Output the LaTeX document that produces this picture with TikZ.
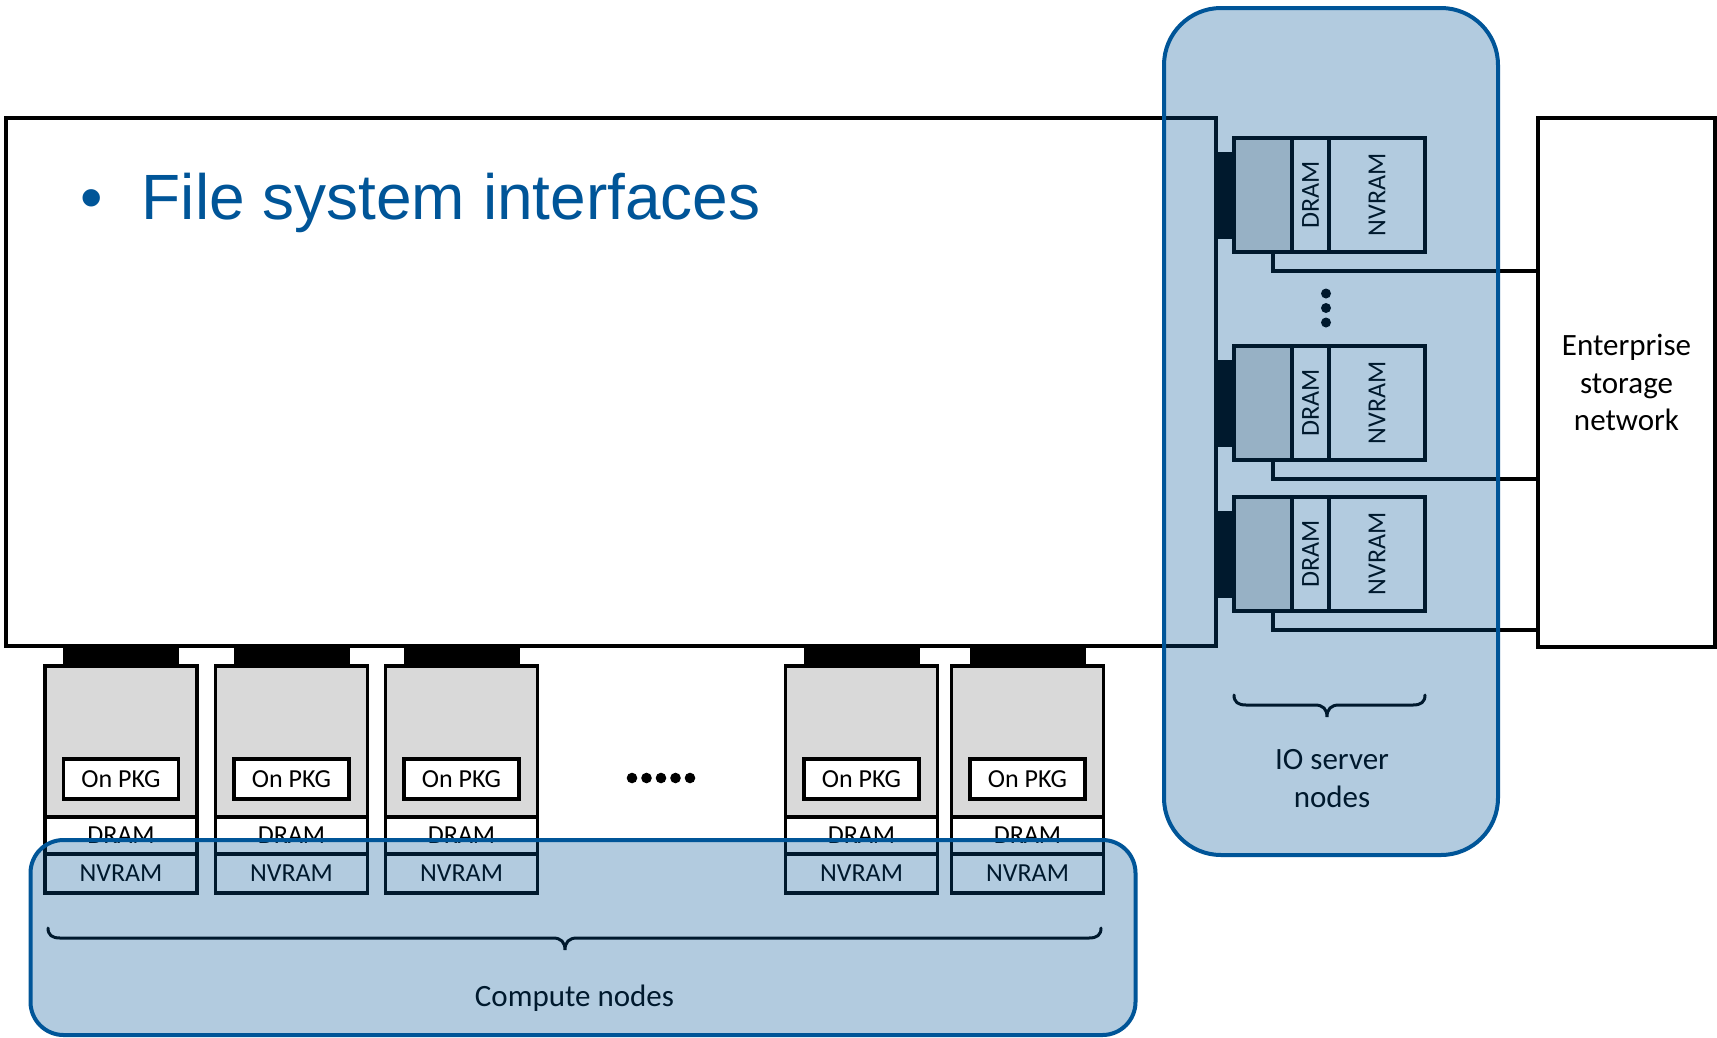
\documentclass[tikz,border=0pt]{standalone}
\usepackage{fontspec}
\setmainfont{Carlito}
\newfontfamily\titlefont{Liberation Sans}
\usetikzlibrary{calc}
\definecolor{grpblue}{RGB}{0,85,152}
\definecolor{cpugrey}{RGB}{217,217,217}
\newcommand\lblfont{\fontsize{26}{31}\selectfont}
\newcommand\capfont{\fontsize{31}{37.5}\selectfont}
\newcommand\headfont{\titlefont\fontsize{64}{76}\selectfont}
\begin{document}
\begin{tikzpicture}[x=1pt,y=-1pt,
  box/.style={draw=black, line width=3.3pt, inner sep=0pt, outer sep=0pt},
  cpu/.style={box, fill=cpugrey, minimum width=152pt, minimum height=151pt},
  mem/.style={box, fill=white, minimum width=152pt, font=\lblfont},
  pkg/.style={box, fill=white, minimum width=115pt, minimum height=40pt, font=\lblfont},
  link/.style={fill=black, inner sep=0pt, outer sep=0pt},
  wire/.style={draw=black, line width=4pt},
  brace/.style={draw=black, line width=3pt, line cap=round},
  grp/.style={draw=grpblue, line width=4pt, fill=grpblue, fill opacity=0.3, inner sep=0pt},
  vlabel/.style={rotate=90, font=\lblfont, inner sep=0pt}
]
% canvas
\fill[white] (0,0) rectangle (1717,1037);
\useasboundingbox (0,0) rectangle (1717,1037);

% interconnect fabric and enterprise storage
\node[box, fill=white, minimum width=1210pt, minimum height=528pt] (fabric) at (611,382) {};
\node[box, fill=white, minimum width=177pt, minimum height=529pt, font=\capfont, align=center]
  (storage) at (1626.5,382.5) {Enterprise\\storage\\network};

% title bullet
\node[anchor=base, inner sep=0pt, text=grpblue, font=\headfont]
  (bullet) at (92,219.3) {•};
\node[anchor=base west, inner sep=0pt, text=grpblue, font=\headfont]
  (title) at (141.5,219.3) {File system interfaces};

% compute nodes
\foreach \i/\L in {1/45,2/215.5,3/385.5,4/785.5,5/951.5}{
  \node[link, minimum width=116pt, minimum height=21pt] (lk\i) at (\L+76,655.5) {};
  \node[cpu] (cpu\i) at (\L+76,741.5) {};
  \node[mem, minimum height=37pt, anchor=north] (dram\i) at (cpu\i.south) {DRAM};
  \node[mem, minimum height=39pt, anchor=north] (nv\i) at (dram\i.south) {NVRAM};
  \node[pkg] (pkg\i) at (\L+76,779) {On PKG};
}
\foreach \k in {0,...,4}{
  \fill (632+14.5*\k,778) circle (5.3);
}

% IO server nodes
\foreach \i/\T in {1/138,2/346,3/497}{
  \node[link, minimum width=20pt, minimum height=87pt] (slk\i) at (1225,\T+57) {};
  \node[box, fill=cpugrey, minimum width=58pt, minimum height=114pt] (scpu\i) at (1263,\T+57) {};
  \node[box, fill=white, minimum width=37pt, minimum height=114pt, anchor=west,
        label={[vlabel]center:DRAM}] (sdram\i) at (scpu\i.east) {};
  \node[box, fill=white, minimum width=96pt, minimum height=114pt, anchor=west,
        label={[vlabel]center:NVRAM}] (snv\i) at (sdram\i.east) {};
  \coordinate (tap\i) at (1273,\T+133);
  \draw[wire] (scpu\i.south -| tap\i) -- (tap\i) -- (tap\i -| storage.west);
}
\foreach \y in {293.5,308,322.5}{
  \fill (1326,\y) circle (5);
}

% braces and captions
\draw[brace] (48,928) .. controls (48,935) and (52,938) .. (60,938) -- (553,938)
  .. controls (561,938) and (565,942) .. (565,950)
  .. controls (565,942) and (569,938) .. (577,938) -- (1089,938)
  .. controls (1097,938) and (1101,935) .. (1101,928);
\node[font=\capfont] (cname) at (574.5,998) {Compute nodes};

\draw[brace] (1234,695) .. controls (1234,702) and (1238,705) .. (1246,705) -- (1315,705)
  .. controls (1323,705) and (1327,709) .. (1327,717)
  .. controls (1327,709) and (1331,705) .. (1339,705) -- (1413,705)
  .. controls (1421,705) and (1425,702) .. (1425,695);
\node[font=\capfont, align=center] (sname) at (1332,778.5) {IO server\\nodes};

% translucent groupings
\node[grp, rounded corners=33pt, minimum width=1105pt, minimum height=195pt] (cgrp) at (583,937.5) {};
\node[grp, rounded corners=57pt, minimum width=334pt, minimum height=847pt] (sgrp) at (1331,431.5) {};
\end{tikzpicture}
\end{document}
